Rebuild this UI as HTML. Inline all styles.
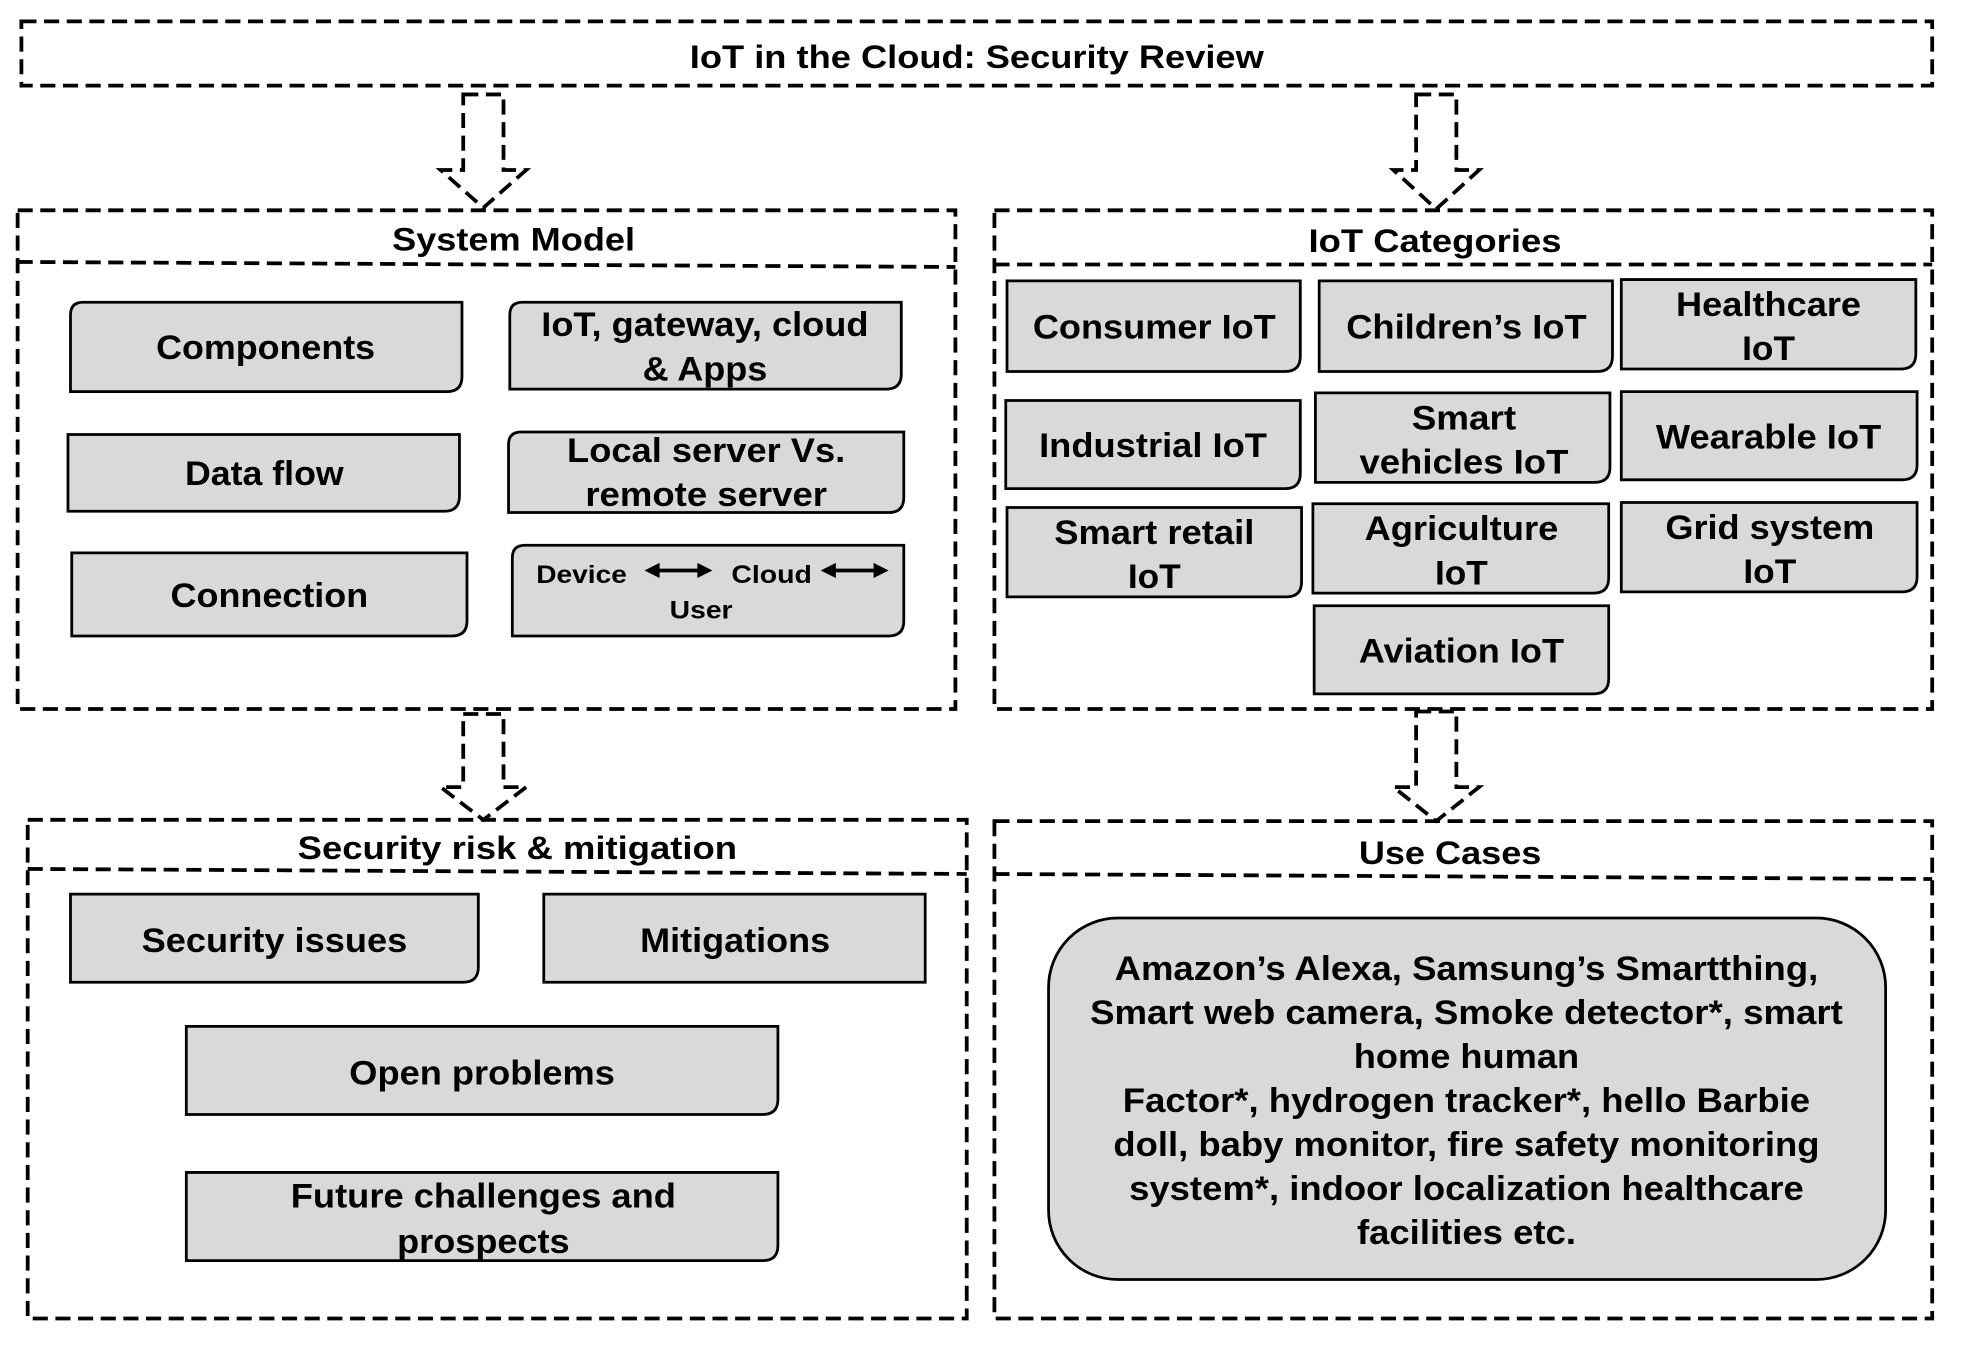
<!DOCTYPE html>
<html><head><meta charset="utf-8"><style>
html,body{margin:0;padding:0;background:#fff}
svg{display:block}
text{font-family:"Liberation Sans",Arial,sans-serif;font-weight:bold;fill:#000;text-anchor:middle}
.d{fill:none;stroke:#000;stroke-width:3;stroke-dasharray:12 6}
.b{fill:#d9d9d9;stroke:#000;stroke-width:2.2}
.t{font-size:27px}
.h{font-size:26px}
</style></head><body>
<svg width="1975" height="1350" viewBox="0 0 1569 1072" preserveAspectRatio="none" xmlns="http://www.w3.org/2000/svg">
<rect class="d" x="17" y="17" width="1518" height="51"/>
<text class="h" x="776" y="54" textLength="456" lengthAdjust="spacingAndGlyphs">IoT in the Cloud: Security Review</text>

<path class="d" d="M368 75 H400 V135 H418 L384 165 L350 135 H368 Z"/>
<path class="d" d="M1125 75 H1157 V135 H1175 L1141 166 L1107 135 H1125 Z"/>
<path class="d" d="M368 567 H400 V625 H418 L384 651 L350 625 H368 Z"/>
<path class="d" d="M1125 565 H1157 V625 H1175 L1141 652 L1107 625 H1125 Z"/>

<rect class="d" x="14" y="167" width="745" height="396"/>
<path class="d" d="M14 208 L759 212"/>
<text class="h" x="408" y="199" textLength="193" lengthAdjust="spacingAndGlyphs">System Model</text>

<rect class="d" x="790" y="167" width="745" height="396"/>
<path class="d" d="M790 210 H1535"/>
<text class="h" x="1140" y="200" textLength="201" lengthAdjust="spacingAndGlyphs">IoT Categories</text>

<rect class="d" x="22" y="651" width="746" height="396"/>
<path class="d" d="M22 690 L768 694"/>
<text class="h" x="411" y="682" textLength="349" lengthAdjust="spacingAndGlyphs">Security risk &amp; mitigation</text>

<rect class="d" x="790" y="652" width="745" height="395"/>
<path class="d" d="M790 694 L1535 698"/>
<text class="h" x="1152" y="686" textLength="145" lengthAdjust="spacingAndGlyphs">Use Cases</text>

<path class="b" d="M66 240 H367 V299 Q367 311 355 311 H56 V250 Q56 240 66 240 Z"/>
<text class="t" x="211" y="285" textLength="174" lengthAdjust="spacingAndGlyphs">Components</text>
<path class="b" d="M415 240 H716 V297 Q716 309 704 309 H405 V250 Q405 240 415 240 Z"/>
<text class="t" x="560" y="267" textLength="260" lengthAdjust="spacingAndGlyphs">IoT, gateway, cloud</text>
<text class="t" x="560" y="302" textLength="99" lengthAdjust="spacingAndGlyphs">&amp; Apps</text>

<path class="b" d="M54 345 H365 V394 Q365 406 353 406 H54 Z"/>
<text class="t" x="210" y="385" textLength="126" lengthAdjust="spacingAndGlyphs">Data flow</text>
<path class="b" d="M414 343 H718 V395 Q718 407 706 407 H404 V353 Q404 343 414 343 Z"/>
<text class="t" x="561" y="367" textLength="221" lengthAdjust="spacingAndGlyphs">Local server Vs.</text>
<text class="t" x="561" y="402" textLength="192" lengthAdjust="spacingAndGlyphs">remote server</text>

<path class="b" d="M57 439 H371 V493 Q371 505 359 505 H57 Z"/>
<text class="t" x="214" y="482" textLength="157" lengthAdjust="spacingAndGlyphs">Connection</text>
<path class="b" d="M417 433 H718 V493 Q718 505 706 505 H407 V443 Q407 433 417 433 Z"/>
<text x="462" y="463" style="font-size:20px" textLength="72" lengthAdjust="spacingAndGlyphs">Device</text>
<text x="613" y="463" style="font-size:20px" textLength="64" lengthAdjust="spacingAndGlyphs">Cloud</text>
<text x="557" y="491" style="font-size:20px" textLength="50" lengthAdjust="spacingAndGlyphs">User</text>
<g fill="#000">
<path d="M522 453 H556" stroke="#000" stroke-width="3"/>
<path d="M512 453 L524 447 V459 Z M566 453 L554 447 V459 Z"/>
<path d="M662 453 H696" stroke="#000" stroke-width="3"/>
<path d="M652 453 L664 447 V459 Z M706 453 L694 447 V459 Z"/>
</g>

<path class="b" d="M800 223 H1033 V283 Q1033 295 1021 295 H800 Z"/>
<text class="t" x="917" y="269" textLength="193" lengthAdjust="spacingAndGlyphs">Consumer IoT</text>
<path class="b" d="M1048 223 H1281 V283 Q1281 295 1269 295 H1048 Z"/>
<text class="t" x="1165" y="269" textLength="191" lengthAdjust="spacingAndGlyphs">Children’s IoT</text>
<path class="b" d="M1288 222 H1522 V281 Q1522 293 1510 293 H1288 Z"/>
<text class="t" x="1405" y="251" textLength="147" lengthAdjust="spacingAndGlyphs">Healthcare</text>
<text class="t" x="1405" y="286" textLength="42" lengthAdjust="spacingAndGlyphs">IoT</text>

<path class="b" d="M799 318 H1033 V376 Q1033 388 1021 388 H799 Z"/>
<text class="t" x="916" y="363" textLength="181" lengthAdjust="spacingAndGlyphs">Industrial IoT</text>
<path class="b" d="M1045 312 H1279 V371 Q1279 383 1267 383 H1045 Z"/>
<text class="t" x="1163" y="341" textLength="83" lengthAdjust="spacingAndGlyphs">Smart</text>
<text class="t" x="1163" y="376" textLength="166" lengthAdjust="spacingAndGlyphs">vehicles IoT</text>
<path class="b" d="M1288 311 H1523 V369 Q1523 381 1511 381 H1288 Z"/>
<text class="t" x="1405" y="356" textLength="179" lengthAdjust="spacingAndGlyphs">Wearable IoT</text>

<path class="b" d="M800 403 H1034 V462 Q1034 474 1022 474 H800 Z"/>
<text class="t" x="917" y="432" textLength="159" lengthAdjust="spacingAndGlyphs">Smart retail</text>
<text class="t" x="917" y="467" textLength="42" lengthAdjust="spacingAndGlyphs">IoT</text>
<path class="b" d="M1043 400 H1278 V459 Q1278 471 1266 471 H1043 Z"/>
<text class="t" x="1161" y="429" textLength="154" lengthAdjust="spacingAndGlyphs">Agriculture</text>
<text class="t" x="1161" y="464" textLength="42" lengthAdjust="spacingAndGlyphs">IoT</text>
<path class="b" d="M1288 399 H1523 V458 Q1523 470 1511 470 H1288 Z"/>
<text class="t" x="1406" y="428" textLength="166" lengthAdjust="spacingAndGlyphs">Grid system</text>
<text class="t" x="1406" y="463" textLength="42" lengthAdjust="spacingAndGlyphs">IoT</text>

<path class="b" d="M1044 481 H1278 V539 Q1278 551 1266 551 H1044 Z"/>
<text class="t" x="1161" y="526" textLength="163" lengthAdjust="spacingAndGlyphs">Aviation IoT</text>

<path class="b" d="M56 710 H380 V768 Q380 780 368 780 H56 Z"/>
<text class="t" x="218" y="756" textLength="211" lengthAdjust="spacingAndGlyphs">Security issues</text>
<path class="b" d="M432 710 H735 V780 H432 Z"/>
<text class="t" x="584" y="756" textLength="151" lengthAdjust="spacingAndGlyphs">Mitigations</text>
<path class="b" d="M148 815 H618 V873 Q618 885 606 885 H148 Z"/>
<text class="t" x="383" y="861" textLength="211" lengthAdjust="spacingAndGlyphs">Open problems</text>
<path class="b" d="M148 931 H618 V989 Q618 1001 606 1001 H148 Z"/>
<text class="t" x="384" y="959" textLength="306" lengthAdjust="spacingAndGlyphs">Future challenges and</text>
<text class="t" x="384" y="995" textLength="137" lengthAdjust="spacingAndGlyphs">prospects</text>

<rect class="b" x="833" y="729" width="665" height="287" rx="55" ry="55"/>
<text class="t" x="1165" y="778" textLength="559" lengthAdjust="spacingAndGlyphs">Amazon’s Alexa, Samsung’s Smartthing,</text>
<text class="t" x="1165" y="813" textLength="598" lengthAdjust="spacingAndGlyphs">Smart web camera, Smoke detector*, smart</text>
<text class="t" x="1165" y="848" textLength="179" lengthAdjust="spacingAndGlyphs">home human</text>
<text class="t" x="1165" y="883" textLength="546" lengthAdjust="spacingAndGlyphs">Factor*, hydrogen tracker*, hello Barbie</text>
<text class="t" x="1165" y="918" textLength="561" lengthAdjust="spacingAndGlyphs">doll, baby monitor, fire safety monitoring</text>
<text class="t" x="1165" y="953" textLength="536" lengthAdjust="spacingAndGlyphs">system*, indoor localization healthcare</text>
<text class="t" x="1165" y="988" textLength="174" lengthAdjust="spacingAndGlyphs">facilities etc.</text>
</svg>
</body></html>
